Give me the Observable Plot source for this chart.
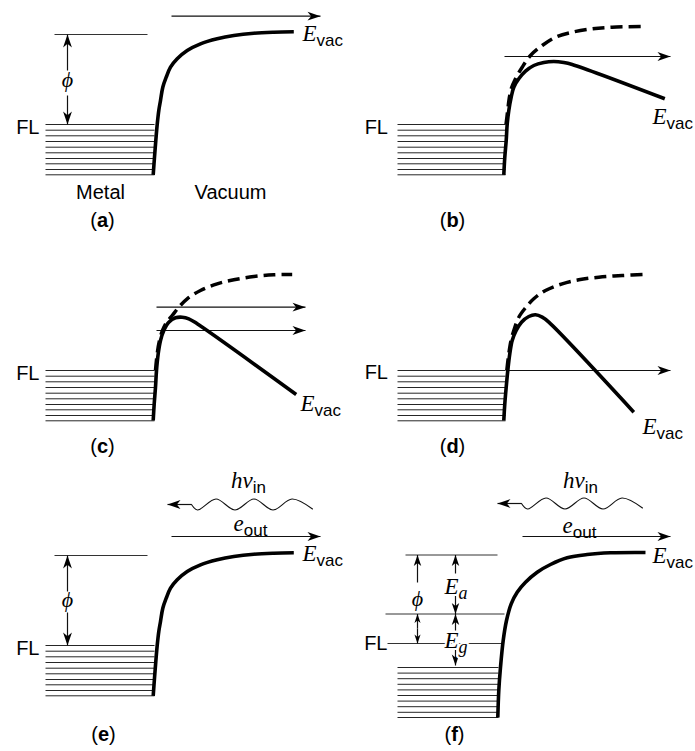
<!DOCTYPE html>
<html><head><meta charset="utf-8">
<script src="https://cdn.jsdelivr.net/npm/d3@7"></script>
<script src="https://cdn.jsdelivr.net/npm/@observablehq/plot@0.6"></script>
<style>
body{margin:0;background:#fff;}
#chart{position:relative;width:695px;height:751px;overflow:hidden;background:#fff;}
#chart svg{position:absolute;}
</style></head><body><div id="chart"></div>
<script>
// ---------- data (x: distance units, y: energy units, Fermi level = 0) ----------
const metalLevels = [0, -0.57, -1.13, -1.7, -2.27, -2.83, -3.4, -3.93, -4.5, -5.03];
const semiLevels  = [-2.4, -2.96, -3.52, -4.08, -4.64, -5.2, -5.76, -6.32, -6.88, -7.4];

const barrierMetal = [[15.27,-5.03],[15.4,-3.27],[15.53,-1.6],[15.67,0],[15.83,1.4],[16.0,2.4],[16.23,3.73],[16.57,4.73],[17.0,5.73],[17.67,6.57],[18.67,7.4],[20.0,8.07],[21.67,8.57],[23.33,8.9],[25.33,9.13],[27.33,9.23],[29.33,9.27]];
const barrierSemi  = [[14.73,-7.4],[14.83,-4.7],[15.0,-2.37],[15.27,0.3],[15.6,2.3],[16.07,3.97],[16.67,5.13],[17.5,6.13],[18.67,7.13],[20.0,7.9],[21.67,8.57],[23.67,8.9],[26.0,9.07],[29.5,9.1]];

const imageB     = [[15.33,-5.03],[15.43,-3.27],[15.57,-1.6],[15.67,0.03],[15.83,1.4],[16.07,2.73],[16.33,3.73],[16.83,4.57],[17.5,5.33],[18.33,5.9],[19.33,6.2],[20.33,6.3],[21.33,6.2],[22.17,6.0],[31.43,2.57]];
const classicalB = [[15.55,0],[15.72,1.4],[15.87,2.6],[16.07,3.57],[16.5,4.57],[17.17,5.73],[18.0,6.9],[19.17,7.9],[20.5,8.73],[22.17,9.23],[24.17,9.57],[26.17,9.73],[29.17,9.8]];
const imageC     = [[15.27,-5.0],[15.37,-3.33],[15.5,-1.67],[15.6,0],[15.77,1.67],[16.0,3.0],[16.33,4.0],[16.83,4.83],[17.5,5.27],[18.17,5.33],[18.83,5.17],[19.67,4.67],[29.57,-2.4]];
const classicalC = [[15.5,0],[15.67,1.67],[15.9,3.0],[16.2,4.0],[16.6,4.8],[17.17,5.5],[17.83,6.33],[18.67,7.17],[20.0,8.0],[21.67,8.67],[23.33,9.07],[25.33,9.4],[27.33,9.57],[29.17,9.6]];
const imageD     = [[15.33,-5.0],[15.43,-3.33],[15.57,-1.67],[15.73,0],[15.93,1.67],[16.17,3.0],[16.57,4.0],[17.1,4.83],[17.83,5.4],[18.5,5.57],[19.17,5.33],[19.83,4.83],[28.33,-4.17]];
const classicalD = [[15.63,0],[15.83,1.67],[16.05,3.0],[16.33,4.0],[16.83,5.33],[17.5,6.27],[18.33,7.17],[19.5,8.0],[21.17,8.67],[22.83,9.07],[24.83,9.33],[27.17,9.5],[29.5,9.6]];

const waveE = [[19.1,14.1],[19.7,13.55],[21.55,14.65],[23.45,13.55],[25.35,14.65],[27.25,13.55],[29.15,14.65],[31.2,13.65]];
const waveF = [[17.1,14.0],[17.7,13.45],[19.55,14.55],[21.45,13.45],[23.35,14.55],[25.25,13.45],[27.15,14.55],[29.2,13.55]];

// ---------- panels ----------
const panels = [
  {left:0, top:0, width:350, height:236, fl:124, bandX:[4.5,15.4], bands:metalLevels, solid:barrierMetal,
   lines:[{x1:5.4,x2:14.7,y:9.0}],
   arrows:[{x1:17.1,y1:10.83,x2:32.0,y2:10.83},{x1:6.7,y1:5.4,x2:6.7,y2:9.0},{x1:6.7,y1:2.9,x2:6.7,y2:0}],
   texts:[{x:3.9,y:-0.3,text:"FL",kind:"fl"},{x:6.7,y:4.5,text:"ϕ",kind:"phi"},{x:30.2,y:8.4,text:"Evac",kind:"start"},
          {x:10.0,y:-6.8,text:"Metal",kind:"sans"},{x:23.0,y:-6.8,text:"Vacuum",kind:"sans"},{x:10.2,y:-9.6,text:"(a)",kind:"panel"}]},
  {left:350, top:0, width:345, height:236, fl:124, bandX:[4.7,15.5], bands:metalLevels, solid:imageB, dashed:classicalB,
   lines:[],
   arrows:[{x1:15.4,y1:6.8,x2:32.0,y2:6.8}],
   texts:[{x:3.75,y:-0.3,text:"FL",kind:"fl"},{x:30.2,y:0.1,text:"Evac",kind:"start"},{x:10.2,y:-9.6,text:"(b)",kind:"panel"}]},
  {left:0, top:236, width:350, height:236, fl:134, bandX:[4.5,15.4], bands:metalLevels, solid:imageC, dashed:classicalC,
   lines:[],
   arrows:[{x1:15.6,y1:6.33,x2:30.5,y2:6.33},{x1:15.6,y1:4.0,x2:30.5,y2:4.0}],
   texts:[{x:3.9,y:-0.3,text:"FL",kind:"fl"},{x:30.0,y:-4.0,text:"Evac",kind:"start"},{x:10.2,y:-7.6,text:"(c)",kind:"panel"}]},
  {left:350, top:236, width:345, height:236, fl:134, bandX:[4.7,15.5], bands:metalLevels, solid:imageD, dashed:classicalD,
   lines:[],
   arrows:[{x1:15.8,y1:0,x2:32.0,y2:0}],
   texts:[{x:3.75,y:-0.2,text:"FL",kind:"fl"},{x:29.2,y:-6.3,text:"Evac",kind:"start"},{x:10.2,y:-7.6,text:"(d)",kind:"panel"}]},
  {left:0, top:472, width:350, height:279, fl:173, bandX:[4.5,15.4], bands:metalLevels, solid:barrierMetal, wave:waveE,
   lines:[{x1:5.4,x2:14.7,y:9.0}],
   arrows:[{x1:17.1,y1:10.9,x2:32.0,y2:10.9},{x1:6.7,y1:5.4,x2:6.7,y2:9.0},{x1:6.7,y1:3.3,x2:6.7,y2:0},{x1:19.1,y1:14.1,x2:16.7,y2:14.1}],
   texts:[{x:3.9,y:-0.3,text:"FL",kind:"fl"},{x:6.7,y:4.6,text:"ϕ",kind:"phi"},{x:30.2,y:8.5,text:"Evac",kind:"start"},
          {x:25.0,y:11.5,text:"eout",kind:"math"},{x:24.8,y:15.8,text:"hνin",kind:"math"},{x:10.3,y:-8.9,text:"(e)",kind:"panel"}]},
  {left:350, top:472, width:345, height:279, fl:171, bandX:[4.7,14.8], bands:semiLevels, solid:barrierSemi, wave:waveF,
   lines:[{x1:5.5,x2:14.7,y:8.85},{x1:3.5,x2:15.4,y:2.95},{x1:3.7,x2:15.2,y:0}],
   arrows:[{x1:17.2,y1:10.7,x2:32.0,y2:10.7},{x1:17.1,y1:14.0,x2:14.7,y2:14.0},
           {x1:6.7,y1:6.1,x2:6.7,y2:8.85,head:11},{x1:6.7,y1:1.5,x2:6.7,y2:2.95,head:9},{x1:6.7,y1:1.5,x2:6.7,y2:0,head:9},
           {x1:10.5,y1:7.0,x2:10.5,y2:8.85,head:11},{x1:10.5,y1:4.8,x2:10.5,y2:2.95,head:11},
           {x1:10.5,y1:1.3,x2:10.5,y2:2.95,head:11},{x1:10.5,y1:-0.5,x2:10.5,y2:-2.2,head:11}],
   texts:[{x:3.7,y:0,text:"FL",kind:"fl"},{x:6.7,y:4.5,text:"ϕ",kind:"phi"},{x:30.2,y:8.1,text:"Evac",kind:"start"},
          {x:22.9,y:11.1,text:"eout",kind:"math"},{x:23.0,y:15.6,text:"hνin",kind:"math"},
          {x:9.4,y:5.0,text:"Ea",kind:"halo"},{x:9.4,y:-0.4,text:"Eg",kind:"halo"},{x:10.4,y:-9.1,text:"(f)",kind:"panel"}]}
];

// ---------- styles ----------
const SERIF = "'Liberation Serif','DejaVu Serif','Times New Roman',serif";
const SANS = "'Liberation Sans',Arial,Helvetica,sans-serif";
const TEXT_STYLES = {
  fl:    {textAnchor:"end", fontSize:20, fontFamily:SANS},
  sans:  {textAnchor:"middle", fontSize:20, fontFamily:SANS},
  phi:   {textAnchor:"middle", fontSize:22, fontFamily:SERIF, fontStyle:"italic"},
  start: {textAnchor:"start", lineAnchor:"bottom", fontSize:22},
  math:  {textAnchor:"middle", lineAnchor:"bottom", fontSize:22},
  halo:  {textAnchor:"start", lineAnchor:"bottom", fontSize:22},
  panel: {textAnchor:"middle", fontSize:20, fontFamily:SANS}
};
const FMT = {
  mi:   {family:SERIF, size:23, style:"italic"},
  sub:  {family:SANS, size:17, shift:5},
  subi: {family:SERIF, size:18, style:"italic", shift:5},
  n:    {family:SANS, size:20},
  b:    {family:SANS, size:20, weight:"bold"}
};
const RICH = {
  "Evac": [["E","mi"],["vac","sub"]],
  "hνin": [["hν","mi"],["in","sub"]],
  "eout": [["e","mi"],["out","sub"]],
  "Ea":   [["E","mi"],["a","subi"]],
  "Eg":   [["E","mi"],["g","subi"]]
};
const HALO = new Set(["Ea","Eg"]);

function headSymbol(dir, L) {
  const w = L * 0.34, n = L * 0.72;
  const pts = [[0,0],[w,L],[0,n],[-w,L]];
  const a = {up:0, right:90, down:180, left:270}[dir] * Math.PI / 180;
  return {draw(ctx) {
    pts.forEach(([x,y], i) => {
      const X = x*Math.cos(a) - y*Math.sin(a), Y = x*Math.sin(a) + y*Math.cos(a);
      i ? ctx.lineTo(X, Y) : ctx.moveTo(X, Y);
    });
    ctx.closePath();
  }};
}
function dirOf(a) {
  if (a.x2 > a.x1) return "right";
  if (a.x2 < a.x1) return "left";
  return a.y2 > a.y1 ? "up" : "down";
}

function richify(svg) {
  svg.querySelectorAll("text").forEach(t => {
    const s = t.textContent;
    let parts = RICH[s];
    const m = /^\((\w)\)$/.exec(s);
    if (m) parts = [["(","n"],[m[1],"b"],[")","n"]];
    if (!parts) return;
    t.textContent = "";
    let shifted = 0;
    for (const [str, kind] of parts) {
      const st = FMT[kind];
      const ts = document.createElementNS("http://www.w3.org/2000/svg", "tspan");
      ts.textContent = str;
      ts.setAttribute("font-family", st.family);
      ts.setAttribute("font-size", st.size);
      if (st.style) ts.setAttribute("font-style", st.style);
      if (st.weight) ts.setAttribute("font-weight", st.weight);
      const sh = st.shift || 0;
      if (sh !== shifted) ts.setAttribute("dy", sh - shifted);
      shifted = sh;
      t.appendChild(ts);
    }
    if (HALO.has(s)) {
      t.setAttribute("stroke", "white");
      t.setAttribute("stroke-width", 4);
      t.setAttribute("stroke-linejoin", "round");
      t.setAttribute("paint-order", "stroke");
    }
  });
}

function panelPlot(p) {
  const marks = [];
  marks.push(Plot.link(p.bands, {x1: () => p.bandX[0], x2: () => p.bandX[1], y1: d => d, y2: d => d, stroke: "#262626", strokeWidth: 1}));
  if (p.lines.length) marks.push(Plot.link(p.lines, {x1: "x1", x2: "x2", y1: "y", y2: "y", stroke: "#333", strokeWidth: 1}));
  marks.push(Plot.link(p.arrows, {x1: "x1", y1: "y1", x2: "x2", y2: "y2", stroke: "#111", strokeWidth: 1.2}));
  for (const [dir, bySize] of d3.groups(p.arrows, dirOf, a => a.head || 13)) {
    for (const [L, arr] of bySize) {
      marks.push(Plot.dot(arr, {x: "x2", y: "y2", r: 5, symbol: headSymbol(dir, L), fill: "black", stroke: "none"}));
    }
  }
  if (p.wave) marks.push(Plot.line(p.wave, {x: d => d[0], y: d => d[1], curve: "catmull-rom", stroke: "#111", strokeWidth: 1.1}));
  if (p.dashed) marks.push(Plot.line(p.dashed, {x: d => d[0], y: d => d[1], curve: "catmull-rom", stroke: "black", strokeWidth: 3.5, strokeDasharray: "12,6", strokeLinecap: "butt"}));
  marks.push(Plot.line(p.solid, {x: d => d[0], y: d => d[1], curve: "catmull-rom", stroke: "black", strokeWidth: 3.6, strokeLinecap: "butt", strokeLinejoin: "round"}));
  for (const kind of Object.keys(TEXT_STYLES)) {
    const data = p.texts.filter(t => t.kind === kind);
    if (data.length) marks.push(Plot.text(data, {x: "x", y: "y", text: "text", fill: "black", ...TEXT_STYLES[kind]}));
  }
  const svg = Plot.plot({
    width: p.width, height: p.height, margin: 0,
    x: {domain: [0, p.width / 10], axis: null},
    y: {domain: [-(p.height - p.fl) / 10, p.fl / 10], axis: null},
    style: {background: "transparent", overflow: "visible"},
    marks
  });
  richify(svg);
  svg.style.left = p.left + "px";
  svg.style.top = p.top + "px";
  return svg;
}

const chart = document.getElementById("chart");
for (const p of panels) chart.appendChild(panelPlot(p));
</script></body></html>
